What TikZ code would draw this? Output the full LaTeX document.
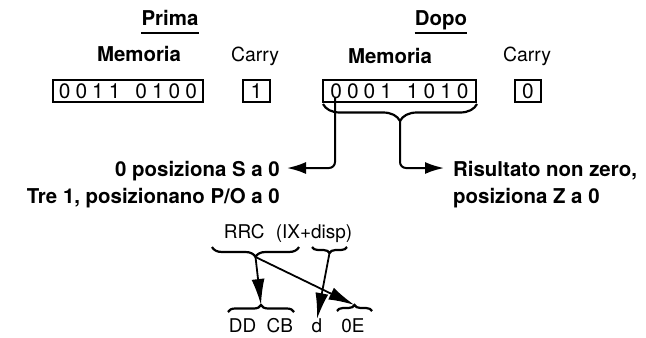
\documentclass[tikz,border=0pt]{standalone}
\usepackage{fontspec}
\setmainfont{TeX Gyre Heros}
\usetikzlibrary{arrows.meta,decorations.pathreplacing}
\newcommand\bitsp{\hspace{5bp}}
\newcommand\grpsp{\hspace{15bp}}
\begin{document}
\begin{tikzpicture}[x=1bp,y=-1bp,
  hd/.style={font=\fontsize{20.5}{24}\selectfont\bfseries, inner sep=0, anchor=base},
  lbl/.style={font=\fontsize{19.5}{23}\selectfont, inner sep=0, anchor=base},
  notel/.style={font=\fontsize{20.5}{24}\selectfont\bfseries, inner sep=0, anchor=base east},
  noter/.style={font=\fontsize{20.5}{24}\selectfont\bfseries, inner sep=0, anchor=base west},
  small/.style={font=\fontsize{19}{23}\selectfont, inner sep=0, anchor=base},
  membox/.style={draw, line width=2bp, minimum height=22bp, inner sep=0,
    font=\fontsize{21}{23}\selectfont},
  conn/.style={line width=2bp},
  arr/.style={conn, -{Latex[length=19bp,width=12bp]}},
  bigarr/.style={line width=1.8bp, -{Latex[length=26bp,width=13bp]}},
  brdown/.style={line width=2.2bp, decorate, decoration={brace, mirror, amplitude=#1}},
  brup/.style={line width=2.2bp, decorate, decoration={brace, amplitude=#1}},
  uline/.style={line width=2bp}
]
\useasboundingbox (0,0) rectangle (646,337);

% headings
\node[hd] (prima) at (170,25) {Prima};
\node[hd] (dopo) at (441,25) {Dopo};
\draw[uline] ([yshift=-8bp]prima.base west) -- ([yshift=-8bp]prima.base east);
\draw[uline] ([yshift=-8bp]dopo.base west) -- ([yshift=-8bp]dopo.base east);

\node[hd] (mem1) at (139,61) {Memoria};
\node[lbl] (car1) at (255,61) {Carry};
\node[hd] (mem2) at (390,63) {Memoria};
\node[lbl] (car2) at (527,61) {Carry};

% boxes
\node[membox, minimum width=150bp] (box1) at (128,91)
  {0\bitsp0\bitsp1\bitsp1\grpsp0\bitsp1\bitsp0\bitsp0};
\node[membox, minimum width=27bp] (cb1) at (256.5,91) {1};
\node[membox, minimum width=153bp] (box2) at (399.5,91)
  {0\bitsp0\bitsp0\bitsp1\grpsp1\bitsp0\bitsp1\bitsp0};
\node[membox, minimum width=26bp] (cb2) at (528,91) {0};

% brace under result
\draw[brdown=17bp] (323,104) -- (477,104);
\coordinate (bt) at (400,121);
\coordinate (s0) at (335,98);
\coordinate (tL) at (287,168);
\coordinate (tR) at (444,168);
\draw[arr, rounded corners=6bp] (s0) |- (tL);
\draw[arr, rounded corners=6bp] (bt) |- (tR);

% notes
\node[notel] (l1) at (280,176) {0 posiziona S a 0};
\node[notel] (l2) at (280,203) {Tre 1, posizionano P/O a 0};
\node[noter] (r1) at (453,176) {Risultato non zero,};
\node[noter] (r2) at (453,203) {posiziona Z a 0};

% instruction encoding
\node[small] (rrc) at (288,238) {RRC\hspace{0.6em}(IX+disp)};
\draw[brdown=10bp] (212,247) -- (299,247);
\draw[brdown=6bp] (312,247) -- (347,247);
\coordinate (b1t) at (255.5,257);
\coordinate (b2t) at (329.5,253);

\node[small] (ddcb) at (261,332) {DD\hspace{0.55em}CB};
\node[small] (dd) at (317,332) {d};
\node[small] (oe) at (353,332) {0E};
\draw[brup=7bp] (228,312) -- (294,312);
\draw[brup=6bp] (337,311) -- (372,311);
\coordinate (b3t) at (261,305);
\coordinate (b4t) at (354.5,305);

\draw[bigarr] (b1t) -- (b3t);
\draw[bigarr] (b1t) -- (b4t);
\draw[bigarr] (b2t) -- ([yshift=-1bp]dd.north);
\end{tikzpicture}
\end{document}
